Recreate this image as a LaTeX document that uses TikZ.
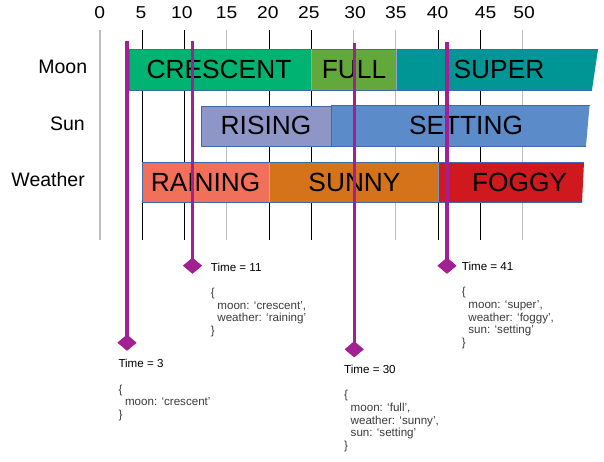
\documentclass[tikz,border=0pt]{standalone}
\usepackage{fontspec}
\setmainfont{Liberation Sans}
\newfontfamily\tickfont[FakeStretch=1.12]{Liberation Sans}
\usetikzlibrary{shapes.geometric}
\definecolor{ccrescent}{RGB}{0,179,115}
\definecolor{cfull}{RGB}{99,168,59}
\definecolor{csuper}{RGB}{0,150,150}
\definecolor{crising}{RGB}{142,150,200}
\definecolor{csetting}{RGB}{91,139,200}
\definecolor{craining}{RGB}{242,112,90}
\definecolor{csunny}{RGB}{212,115,26}
\definecolor{cfoggy}{RGB}{208,24,31}
\definecolor{cborder}{RGB}{65,105,170}
\definecolor{cpin}{RGB}{162,32,145}
\definecolor{cgrid}{RGB}{190,190,190}
\definecolor{cjson}{RGB}{60,60,60}
\tikzset{
  ticklabel/.style={font=\tickfont\fontsize{17.2}{20}\selectfont, inner sep=0pt},
  rowlabel/.style={font=\fontsize{19.5}{22}\selectfont, inner sep=0pt, anchor=east},
  barlabel/.style={font=\fontsize{26.3}{30}\selectfont, inner sep=0pt},
  segedge/.style={draw=cborder, line width=0.8pt},
  pinline/.style={draw=cpin, line width=3.2pt},
  pindiamond/.style={diamond, fill=cpin, minimum width=19pt, minimum height=16pt, inner sep=0pt},
  infotext/.style={font=\fontsize{11.6}{12.7}\selectfont, inner sep=0pt, anchor=north west, align=left, text=cjson},
}
\begin{document}
\begin{tikzpicture}[x=1pt,y=-1pt]
\useasboundingbox[fill=white] (0,0) rectangle (604,461);
% grid lines
\foreach \t/\c/\w in {0/cgrid/1.1,5/black/0.8,10/black/0.8,15/cgrid/1.1,20/black/0.8,25/black/0.8,30/cgrid/1.1,35/cgrid/1.1,40/black/0.8,45/black/0.8,50/cgrid/1.1}
  \draw[draw=\c, line width=\w pt] ({100+8.455*\t},29.5) -- ({100+8.455*\t},240);
% tick labels
\foreach \t/\xx in {0/99.7,5/141,10/181.9,15/226.5,20/267.9,25/308.9,30/355.2,35/395.8,40/437.5,45/485.7,50/524}
  \node[ticklabel] (tick\t) at (\xx,13.0) {\t};
% row labels
\node[rowlabel] (lmoon) at (87.3,67.2) {Moon};
\node[rowlabel] (lsun) at (85,123.7) {Sun};
\node[rowlabel] (lweather) at (85,179.5) {Weather};
% Moon bar
\fill[ccrescent] (129.3,49.3) rectangle (311.7,90);
\fill[cfull] (311.7,49.3) rectangle (396.5,90);
\fill[csuper] (396.5,49.3) -- (598,49.3) -- (592,90) -- (396.5,90) -- cycle;
\draw[segedge] (598,49.3) -- (129.3,49.3) -- (129.3,90) -- (592,90);
\draw[draw=cborder!60!white, line width=0.6pt] (311.7,49.3) -- (311.7,90) (396.5,49.3) -- (396.5,90);
% Sun bar
\fill[crising] (201.7,106.5) rectangle (331,146);
\fill[csetting] (331,105.5) -- (589.5,105.5) -- (586,146) -- (331,146) -- cycle;
\draw[segedge] (331,106.5) -- (201.7,106.5) -- (201.7,146) -- (586,146);
\draw[segedge] (331,146) -- (331,105.5) -- (589.5,105.5);
% Weather bar
\fill[craining] (142.3,162) rectangle (269.3,202.7);
\fill[csunny] (269.3,162) rectangle (438,202.7);
\fill[cfoggy] (438,162) -- (584,162) -- (582,202.7) -- (438,202.7) -- cycle;
\draw[segedge] (584,162) -- (142.3,162) -- (142.3,202.7) -- (582,202.7);
\draw[draw=craining!60!white, line width=0.8pt] (269.3,162.5) -- (269.3,202.3);
\draw[draw=cborder!70!white, line width=0.6pt] (438,162.5) -- (438,202.3);
% bar labels
\node[barlabel] (tcrescent) at (219,69.5) {CRESCENT};
\node[barlabel] (tfull) at (354,69.5) {FULL};
\node[barlabel] (tsuper) at (499,69.5) {SUPER};
\node[barlabel] (trising) at (266,125) {RISING};
\node[barlabel] (tsetting) at (466,125) {SETTING};
\node[barlabel] (training) at (205.6,182) {RAINING};
\node[barlabel] (tsunny) at (354.5,182) {SUNNY};
\node[barlabel] (tfoggy) at (519.5,182) {FOGGY};
% time pins
\coordinate (p3) at (127,40.7);
\coordinate (p11) at (192.5,40.7);
\coordinate (p30) at (354.2,42.5);
\coordinate (p41) at (447,41.7);
\node[pindiamond] (d3) at (127,342.7) {};
\node[pindiamond] (d11) at (192.5,265.7) {};
\node[pindiamond] (d30) at (354.2,349.3) {};
\node[pindiamond] (d41) at (447,265.7) {};
\draw[pinline] (p3) -- (d3.center);
\draw[pinline] (p11) -- (d11.center);
\draw[pinline] (p30) -- (d30.center);
\draw[pinline] (p41) -- (d41.center);
\node[pindiamond] at (d3) {};
\node[pindiamond] at (d11) {};
\node[pindiamond] at (d30) {};
\node[pindiamond] at (d41) {};
% info blocks
\node[infotext] (i3) at (118.3,359.1) {\textcolor{black}{Time = 3}\\[12.7pt]\{\\\hspace*{6.5pt}moon: ‘crescent’\\\}};
\node[infotext] (i11) at (210.7,262.5) {\textcolor{black}{Time = 11}\\[12.7pt]\{\\\hspace*{6.5pt}moon: ‘crescent’,\\\hspace*{6.5pt}weather: ‘raining’\\\}};
\node[infotext] (i30) at (344,364.8) {\textcolor{black}{Time = 30}\\[12.7pt]\{\\\hspace*{6.5pt}moon: ‘full’,\\\hspace*{6.5pt}weather: ‘sunny’,\\\hspace*{6.5pt}sun: ‘setting’\\\}};
\node[infotext] (i41) at (461.7,261.8) {\textcolor{black}{Time = 41}\\[12.7pt]\{\\\hspace*{6.5pt}moon: ‘super’,\\\hspace*{6.5pt}weather: ‘foggy’,\\\hspace*{6.5pt}sun: ‘setting’\\\}};
\end{tikzpicture}
\end{document}
